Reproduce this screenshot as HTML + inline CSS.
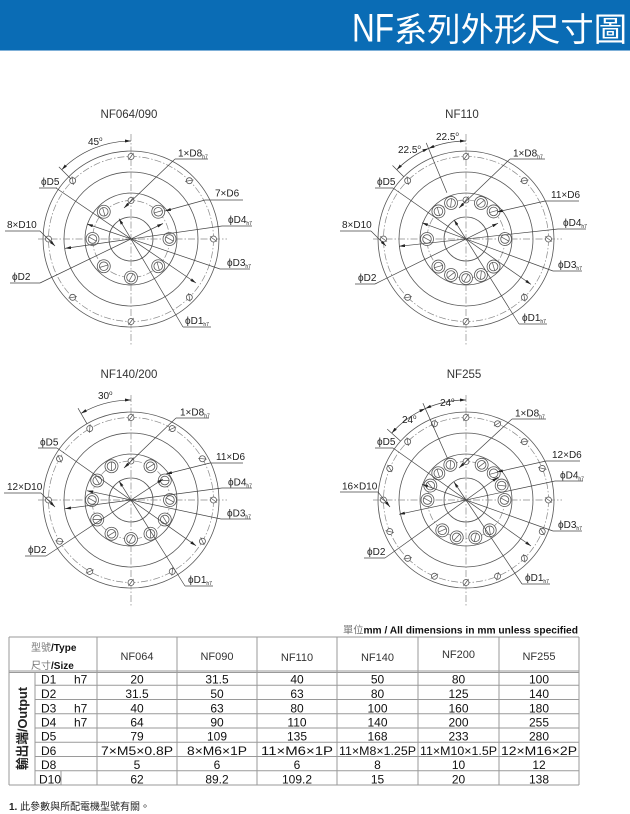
<!DOCTYPE html>
<html><head><meta charset="utf-8"><style>
html,body{margin:0;padding:0;background:#fff;}
svg{display:block;}
.f{font-family:"Liberation Sans","Noto Sans CJK TC",sans-serif;}
.lb{font-size:10px;fill:#222;}
.ti{font-size:11.5px;fill:#333;}
.c{fill:none;stroke:#555;stroke-width:0.8;}
.d{fill:none;stroke:#888;stroke-width:0.7;stroke-dasharray:7 2 1.5 2;}
.ln{fill:none;stroke:#444;stroke-width:0.7;}
.tb{stroke:#9a9a9a;stroke-width:1;fill:none;}
.v{font-size:12px;fill:#111;}
</style></head><body>
<svg width="630" height="814" viewBox="0 0 630 814" xmlns="http://www.w3.org/2000/svg">
<defs>
<marker id="ar" viewBox="0 0 8 4" refX="8" refY="2" markerWidth="6" markerHeight="3" orient="auto-start-reverse" markerUnits="userSpaceOnUse"><path d="M0,0L8,2L0,4z" fill="#222"/></marker>
<g id="s"><circle r="3" fill="#fff" stroke="#555" stroke-width="0.8"/><path d="M-2.5,3.5L2.5,-3.5" stroke="#555" stroke-width="0.7"/></g>
<g id="b"><circle r="6.5" fill="#fff" stroke="#555" stroke-width="0.8"/><circle r="4.3" fill="none" stroke="#555" stroke-width="0.8"/><path d="M-2.2,4L2.2,-4" stroke="#555" stroke-width="0.7"/></g>
</defs>

<!-- header -->
<rect x="0" y="0" width="630" height="50" fill="#0a6cb5"/>
<rect x="0" y="50" width="630" height="1" fill="#7fb0d8"/>
<text class="f" x="352" y="41.5" font-size="40" fill="#fff" textLength="42" lengthAdjust="spacingAndGlyphs">NF</text>
<text class="f" x="394" y="41" font-size="33" fill="#fff" textLength="233" lengthAdjust="spacingAndGlyphs">系列外形尺寸圖</text>

<!-- ============ Drawing 1 ============ -->
<text class="f ti" x="129" y="118" text-anchor="middle">NF064/090</text>
<g transform="translate(131,239)">
<circle class="c" r="88"/><circle class="c" r="67"/><circle class="c" r="46"/><circle class="c" r="22"/>
<circle class="d" r="82.5"/><circle class="d" r="38.5"/><path class="d" d="M-93,0H96M0,-105V106"/>
<use href="#s" transform="rotate(0) translate(0,-82.5)"/><use href="#s" transform="rotate(45) translate(0,-82.5)"/><use href="#s" transform="rotate(90) translate(0,-82.5)"/><use href="#s" transform="rotate(135) translate(0,-82.5)"/><use href="#s" transform="rotate(180) translate(0,-82.5)"/><use href="#s" transform="rotate(225) translate(0,-82.5)"/><use href="#s" transform="rotate(270) translate(0,-82.5)"/><use href="#s" transform="rotate(315) translate(0,-82.5)"/>
<use href="#s" transform="rotate(0) translate(0,-38.5)"/>
<use href="#b" transform="rotate(45) translate(0,-38.5)"/><use href="#b" transform="rotate(90) translate(0,-38.5)"/><use href="#b" transform="rotate(135) translate(0,-38.5)"/><use href="#b" transform="rotate(180) translate(0,-38.5)"/><use href="#b" transform="rotate(225) translate(0,-38.5)"/><use href="#b" transform="rotate(270) translate(0,-38.5)"/><use href="#b" transform="rotate(315) translate(0,-38.5)"/>
</g>
<path class="ln" d="M131,141A98,98 0 0,0 61.7,169.7" marker-start="url(#ar)" marker-end="url(#ar)"/>
<path class="ln" d="M70.9,178.9L58.9,166.9"/>
<text class="f lb" x="88" y="145">45<tspan font-size="6" dy="-4">o</tspan></text>
<text class="f lb" x="178" y="156.5">1×D8<tspan font-size="5" dy="2">h7</tspan></text>
<path class="ln" d="M175,159H208M175,159L124,208" marker-end="url(#ar)"/>
<text class="f lb" x="41" y="185">ϕD5</text>
<path class="ln" d="M39,188H57"/><path class="ln" d="M56,188L196,283" marker-end="url(#ar)"/>
<text class="f lb" x="7" y="228">8×D10</text>
<path class="ln" d="M5,231H40"/><path class="ln" d="M40,231L55,246" marker-end="url(#ar)"/>
<text class="f lb" x="12" y="280">ϕD2</text>
<path class="ln" d="M10,283H40"/><path class="ln" d="M40,283L163,223.5" marker-end="url(#ar)"/>
<text class="f lb" x="215" y="196.5">7×D6</text>
<path class="ln" d="M205,200H243"/><path class="ln" d="M205,200L165,211" marker-end="url(#ar)"/>
<text class="f lb" x="228" y="223">ϕD4<tspan font-size="5" dy="2">h7</tspan></text>
<path class="ln" d="M222,226H252"/><path class="ln" d="M222,226L65,248.4" marker-end="url(#ar)"/>
<text class="f lb" x="227" y="266">ϕD3<tspan font-size="5" dy="2">h7</tspan></text>
<path class="ln" d="M220,269H250"/><path class="ln" d="M220,269L87,224" marker-end="url(#ar)"/>
<text class="f lb" x="185" y="324">ϕD1<tspan font-size="5" dy="2">h7</tspan></text>
<path class="ln" d="M183,327H211"/><path class="ln" d="M183,327L119,218.7" marker-end="url(#ar)"/>

<!-- ============ Drawing 2 ============ -->
<text class="f ti" x="462" y="118" text-anchor="middle">NF110</text>
<g transform="translate(466,239)">
<circle class="c" r="88"/><circle class="c" r="67"/><circle class="c" r="46"/><circle class="c" r="22"/>
<circle class="d" r="82.5"/><circle class="d" r="39"/><path class="d" d="M-93,0H96M0,-105V106"/>
<use href="#s" transform="rotate(0) translate(0,-82.5)"/><use href="#s" transform="rotate(45) translate(0,-82.5)"/><use href="#s" transform="rotate(90) translate(0,-82.5)"/><use href="#s" transform="rotate(135) translate(0,-82.5)"/><use href="#s" transform="rotate(180) translate(0,-82.5)"/><use href="#s" transform="rotate(225) translate(0,-82.5)"/><use href="#s" transform="rotate(270) translate(0,-82.5)"/><use href="#s" transform="rotate(315) translate(0,-82.5)"/>
<use href="#s" transform="rotate(0) translate(0,-39)"/>
<use href="#b" transform="rotate(22.5) translate(0,-39)"/><use href="#b" transform="rotate(-22.5) translate(0,-39)"/><use href="#b" transform="rotate(45) translate(0,-39)"/><use href="#b" transform="rotate(-45) translate(0,-39)"/><use href="#b" transform="rotate(90) translate(0,-39)"/><use href="#b" transform="rotate(-90) translate(0,-39)"/><use href="#b" transform="rotate(135) translate(0,-39)"/><use href="#b" transform="rotate(-135) translate(0,-39)"/><use href="#b" transform="rotate(157.5) translate(0,-39)"/><use href="#b" transform="rotate(-157.5) translate(0,-39)"/><use href="#b" transform="rotate(180) translate(0,-39)"/>
</g>
<path class="ln" d="M466,141A98,98 0 0,0 428.5,148.5" marker-start="url(#ar)" marker-end="url(#ar)"/>
<path class="ln" d="M428.5,148.5A98,98 0 0,0 396.7,169.7" marker-start="url(#ar)" marker-end="url(#ar)"/>
<path class="ln" d="M446.9,192.8L426.2,142.9M403.8,176.8L392.5,165.5"/>
<text class="f lb" x="436" y="140">22.5<tspan font-size="6" dy="-4">o</tspan></text>
<text class="f lb" x="398" y="153">22.5<tspan font-size="6" dy="-4">o</tspan></text>
<text class="f lb" x="513" y="156.5">1×D8<tspan font-size="5" dy="2">h7</tspan></text>
<path class="ln" d="M510,159H545"/><path class="ln" d="M510,159L459,208" marker-end="url(#ar)"/>
<text class="f lb" x="377" y="185">ϕD5</text>
<path class="ln" d="M375,188H393"/><path class="ln" d="M393,188L531,284.4" marker-end="url(#ar)"/>
<text class="f lb" x="551" y="198">11×D6</text>
<path class="ln" d="M545,201H579"/><path class="ln" d="M545,201L497,212" marker-end="url(#ar)"/>
<text class="f lb" x="563" y="226">ϕD4<tspan font-size="5" dy="2">h7</tspan></text>
<path class="ln" d="M558,229H586"/><path class="ln" d="M558,229L399,246.3" marker-end="url(#ar)"/>
<text class="f lb" x="342" y="228">8×D10</text>
<path class="ln" d="M340,231H371"/><path class="ln" d="M371,231L386,246" marker-end="url(#ar)"/>
<text class="f lb" x="558" y="268">ϕD3<tspan font-size="5" dy="2">h7</tspan></text>
<path class="ln" d="M553,271H582"/><path class="ln" d="M553,271L422,222.8" marker-end="url(#ar)"/>
<text class="f lb" x="358" y="281">ϕD2</text>
<path class="ln" d="M355,284H375"/><path class="ln" d="M375,284L498,223.2" marker-end="url(#ar)"/>
<text class="f lb" x="522" y="321">ϕD1<tspan font-size="5" dy="2">h7</tspan></text>
<path class="ln" d="M519,324H547"/><path class="ln" d="M519,324L454,219.8" marker-end="url(#ar)"/>

<!-- ============ Drawing 3 ============ -->
<text class="f ti" x="129" y="378" text-anchor="middle">NF140/200</text>
<g transform="translate(131,500)">
<circle class="c" r="88"/><circle class="c" r="67"/><circle class="c" r="46"/><circle class="c" r="22"/>
<circle class="d" r="82.5"/><circle class="d" r="39"/><path class="d" d="M-93,0H96M0,-105V106"/>
<use href="#s" transform="rotate(0) translate(0,-82.5)"/><use href="#s" transform="rotate(30) translate(0,-82.5)"/><use href="#s" transform="rotate(60) translate(0,-82.5)"/><use href="#s" transform="rotate(90) translate(0,-82.5)"/><use href="#s" transform="rotate(120) translate(0,-82.5)"/><use href="#s" transform="rotate(150) translate(0,-82.5)"/><use href="#s" transform="rotate(180) translate(0,-82.5)"/><use href="#s" transform="rotate(210) translate(0,-82.5)"/><use href="#s" transform="rotate(240) translate(0,-82.5)"/><use href="#s" transform="rotate(270) translate(0,-82.5)"/><use href="#s" transform="rotate(300) translate(0,-82.5)"/><use href="#s" transform="rotate(330) translate(0,-82.5)"/>
<use href="#s" transform="rotate(0) translate(0,-39)"/>
<use href="#b" transform="rotate(30) translate(0,-39)"/><use href="#b" transform="rotate(60) translate(0,-39)"/><use href="#b" transform="rotate(90) translate(0,-39)"/><use href="#b" transform="rotate(120) translate(0,-39)"/><use href="#b" transform="rotate(150) translate(0,-39)"/><use href="#b" transform="rotate(180) translate(0,-39)"/><use href="#b" transform="rotate(210) translate(0,-39)"/><use href="#b" transform="rotate(240) translate(0,-39)"/><use href="#b" transform="rotate(270) translate(0,-39)"/><use href="#b" transform="rotate(300) translate(0,-39)"/><use href="#b" transform="rotate(330) translate(0,-39)"/>
</g>
<path class="ln" d="M131,400A100,100 0 0,0 81,413.4" marker-start="url(#ar)" marker-end="url(#ar)"/>
<path class="ln" d="M87,423.8L78,408.2"/>
<text class="f lb" x="98" y="399">30<tspan font-size="6" dy="-4">o</tspan></text>
<text class="f lb" x="180" y="415.5">1×D8<tspan font-size="5" dy="2">h7</tspan></text>
<path class="ln" d="M176,418H209"/><path class="ln" d="M176,418L124,468" marker-end="url(#ar)"/>
<text class="f lb" x="40" y="445.5">ϕD5</text>
<path class="ln" d="M38,448H57"/><path class="ln" d="M57,448L196,545.7" marker-end="url(#ar)"/>
<text class="f lb" x="216" y="460">11×D6</text>
<path class="ln" d="M210,463H243"/><path class="ln" d="M210,463L166,474" marker-end="url(#ar)"/>
<text class="f lb" x="228" y="485.5">ϕD4<tspan font-size="5" dy="2">h7</tspan></text>
<path class="ln" d="M222,488H252"/><path class="ln" d="M222,488L65,508.7" marker-end="url(#ar)"/>
<text class="f lb" x="7" y="490">12×D10</text>
<path class="ln" d="M4,493H41"/><path class="ln" d="M41,493L55,507" marker-end="url(#ar)"/>
<text class="f lb" x="227" y="516.5">ϕD3<tspan font-size="5" dy="2">h7</tspan></text>
<path class="ln" d="M221,519H251"/><path class="ln" d="M221,519L87,490.7" marker-end="url(#ar)"/>
<text class="f lb" x="28" y="553">ϕD2</text>
<path class="ln" d="M25,556H46"/><path class="ln" d="M46,556L163,479" marker-end="url(#ar)"/>
<text class="f lb" x="188" y="583">ϕD1<tspan font-size="5" dy="2">h7</tspan></text>
<path class="ln" d="M185,586H213"/><path class="ln" d="M185,586L119,481" marker-end="url(#ar)"/>

<!-- ============ Drawing 4 ============ -->
<text class="f ti" x="464" y="378" text-anchor="middle">NF255</text>
<g transform="translate(466,500)">
<circle class="c" r="88"/><circle class="c" r="67"/><circle class="c" r="46"/><circle class="c" r="22"/>
<circle class="d" r="82.5"/><circle class="d" r="38.5"/><path class="d" d="M-93,0H96M0,-105V106"/>
<use href="#s" transform="rotate(0) translate(0,-82.5)"/><use href="#s" transform="rotate(22.5) translate(0,-82.5)"/><use href="#s" transform="rotate(45) translate(0,-82.5)"/><use href="#s" transform="rotate(67.5) translate(0,-82.5)"/><use href="#s" transform="rotate(90) translate(0,-82.5)"/><use href="#s" transform="rotate(112.5) translate(0,-82.5)"/><use href="#s" transform="rotate(135) translate(0,-82.5)"/><use href="#s" transform="rotate(157.5) translate(0,-82.5)"/><use href="#s" transform="rotate(180) translate(0,-82.5)"/><use href="#s" transform="rotate(202.5) translate(0,-82.5)"/><use href="#s" transform="rotate(225) translate(0,-82.5)"/><use href="#s" transform="rotate(247.5) translate(0,-82.5)"/><use href="#s" transform="rotate(270) translate(0,-82.5)"/><use href="#s" transform="rotate(292.5) translate(0,-82.5)"/><use href="#s" transform="rotate(315) translate(0,-82.5)"/><use href="#s" transform="rotate(337.5) translate(0,-82.5)"/>
<use href="#s" transform="rotate(0) translate(0,-38.5)"/>
<use href="#b" transform="rotate(24) translate(0,-38.5)"/><use href="#b" transform="rotate(-24) translate(0,-38.5)"/><use href="#b" transform="rotate(46) translate(0,-38.5)"/><use href="#b" transform="rotate(-46) translate(0,-38.5)"/><use href="#b" transform="rotate(68) translate(0,-38.5)"/><use href="#b" transform="rotate(-68) translate(0,-38.5)"/><use href="#b" transform="rotate(90) translate(0,-38.5)"/><use href="#b" transform="rotate(-90) translate(0,-38.5)"/><use href="#b" transform="rotate(142) translate(0,-38.5)"/><use href="#b" transform="rotate(-142) translate(0,-38.5)"/><use href="#b" transform="rotate(166) translate(0,-38.5)"/><use href="#b" transform="rotate(-166) translate(0,-38.5)"/>
</g>
<path class="ln" d="M466,400A100,100 0 0,0 425.3,408.6" marker-start="url(#ar)" marker-end="url(#ar)"/>
<path class="ln" d="M425.3,408.6A100,100 0 0,0 391.7,433.1" marker-start="url(#ar)" marker-end="url(#ar)"/>
<path class="ln" d="M447.7,458.9L422.9,403.2M400.6,441.1L387.2,429.1"/>
<text class="f lb" x="440" y="406">24<tspan font-size="6" dy="-4">o</tspan></text>
<text class="f lb" x="402" y="423">24<tspan font-size="6" dy="-4">o</tspan></text>
<text class="f lb" x="515" y="416.5">1×D8<tspan font-size="5" dy="2">h7</tspan></text>
<path class="ln" d="M512,419H546"/><path class="ln" d="M512,419L459,468" marker-end="url(#ar)"/>
<text class="f lb" x="377" y="445">ϕD5</text>
<path class="ln" d="M375,448H393"/><path class="ln" d="M393,448L531,546" marker-end="url(#ar)"/>
<text class="f lb" x="552" y="458">12×D6</text>
<path class="ln" d="M546,461H580"/><path class="ln" d="M546,461L497,472" marker-end="url(#ar)"/>
<text class="f lb" x="560" y="478.5">ϕD4<tspan font-size="5" dy="2">h7</tspan></text>
<path class="ln" d="M555,481H583"/><path class="ln" d="M555,481L399,514.3" marker-end="url(#ar)"/>
<text class="f lb" x="342" y="489.5">16×D10</text>
<path class="ln" d="M340,492H378"/><path class="ln" d="M378,492L390,507" marker-end="url(#ar)"/>
<text class="f lb" x="558" y="528">ϕD3<tspan font-size="5" dy="2">h7</tspan></text>
<path class="ln" d="M553,531H582"/><path class="ln" d="M553,531L422,484.3" marker-end="url(#ar)"/>
<text class="f lb" x="367" y="555">ϕD2</text>
<path class="ln" d="M364,558H385"/><path class="ln" d="M385,558L498,477.1" marker-end="url(#ar)"/>
<text class="f lb" x="525" y="581">ϕD1<tspan font-size="5" dy="2">h7</tspan></text>
<path class="ln" d="M522,584H550"/><path class="ln" d="M522,584L454,482" marker-end="url(#ar)"/>

<!-- ============ Table ============ -->
<text class="f" x="343" y="633.5" font-size="10" font-weight="bold" fill="#111" textLength="235" lengthAdjust="spacingAndGlyphs"><tspan fill="#777" font-weight="normal">單位</tspan>mm / All dimensions in mm unless specified</text>

<path class="tb" d="M9,637H579M9,671H579M9,672.5H579M35,685.25H579M35,699.5H579M35,713.75H579M35,728H579M35,742.25H579M35,756.5H579M35,770.75H579M9,785H579"/>
<path class="tb" d="M9,637V785M35,672V785M61,770.75V785M97,637V785M177,637V785M257,637V785M337,637V785M418,637V785M499,637V785M579,637V785"/>

<text class="f" x="31" y="651" font-size="10" font-weight="bold" fill="#111"><tspan fill="#777" font-weight="normal">型號</tspan>/Type</text>
<text class="f" x="31" y="669" font-size="10" font-weight="bold" fill="#111"><tspan fill="#777" font-weight="normal">尺寸</tspan>/Size</text>

<g class="f" font-size="11" fill="#333" text-anchor="middle">
<text x="137" y="660">NF064</text><text x="217" y="660">NF090</text><text x="297" y="661">NF110</text><text x="377.5" y="661">NF140</text><text x="458.5" y="658">NF200</text><text x="539" y="660">NF255</text>
</g>

<text class="f" transform="translate(27,728.5) rotate(-90)" font-size="13" font-weight="bold" fill="#222" text-anchor="middle" textLength="83" lengthAdjust="spacingAndGlyphs">輸出端/Output</text>

<g class="f v">
<text x="41" y="683.7">D1</text><text x="74" y="683.7">h7</text>
<text x="41" y="698">D2</text>
<text x="41" y="712.3">D3</text><text x="74" y="712.3">h7</text>
<text x="41" y="726.5">D4</text><text x="74" y="726.5">h7</text>
<text x="41" y="740.7">D5</text>
<text x="41" y="755">D6</text>
<text x="41" y="769.2">D8</text>
<text x="39" y="783.5">D10</text>
</g>

<g class="f v" text-anchor="middle">
<text x="137" y="683.7">20</text><text x="217" y="683.7">31.5</text><text x="297" y="683.7">40</text><text x="377.5" y="683.7">50</text><text x="458.5" y="683.7">80</text><text x="539" y="683.7">100</text>
<text x="137" y="698">31.5</text><text x="217" y="698">50</text><text x="297" y="698">63</text><text x="377.5" y="698">80</text><text x="458.5" y="698">125</text><text x="539" y="698">140</text>
<text x="137" y="712.3">40</text><text x="217" y="712.3">63</text><text x="297" y="712.3">80</text><text x="377.5" y="712.3">100</text><text x="458.5" y="712.3">160</text><text x="539" y="712.3">180</text>
<text x="137" y="726.5">64</text><text x="217" y="726.5">90</text><text x="297" y="726.5">110</text><text x="377.5" y="726.5">140</text><text x="458.5" y="726.5">200</text><text x="539" y="726.5">255</text>
<text x="137" y="740.7">79</text><text x="217" y="740.7">109</text><text x="297" y="740.7">135</text><text x="377.5" y="740.7">168</text><text x="458.5" y="740.7">233</text><text x="539" y="740.7">280</text>
<text x="137" y="755" textLength="72" lengthAdjust="spacingAndGlyphs">7×M5×0.8P</text>
<text x="217" y="755" textLength="60" lengthAdjust="spacingAndGlyphs">8×M6×1P</text>
<text x="297" y="755" textLength="72" lengthAdjust="spacingAndGlyphs">11×M6×1P</text>
<text x="377.5" y="755" textLength="77" lengthAdjust="spacingAndGlyphs">11×M8×1.25P</text>
<text x="458.5" y="755" textLength="77" lengthAdjust="spacingAndGlyphs">11×M10×1.5P</text>
<text x="539" y="755" textLength="76" lengthAdjust="spacingAndGlyphs">12×M16×2P</text>
<text x="137" y="769.2">5</text><text x="217" y="769.2">6</text><text x="297" y="769.2">6</text><text x="377.5" y="769.2">8</text><text x="458.5" y="769.2">10</text><text x="539" y="769.2">12</text>
<text x="137" y="783.5">62</text><text x="217" y="783.5">89.2</text><text x="297" y="783.5">109.2</text><text x="377.5" y="783.5">15</text><text x="458.5" y="783.5">20</text><text x="539" y="783.5">138</text>
</g>

<text class="f" x="9" y="810" font-size="10" fill="#222" textLength="141" lengthAdjust="spacingAndGlyphs"><tspan font-weight="bold">1. </tspan>此參數與所配電機型號有關。</text>
</svg>
</body></html>
